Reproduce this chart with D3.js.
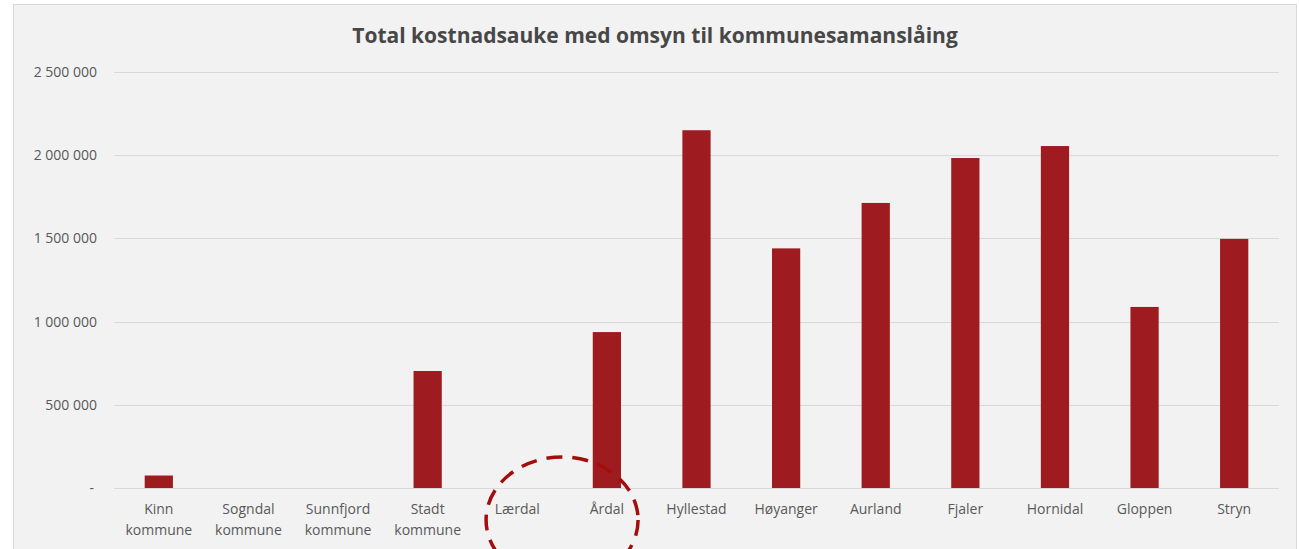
<!DOCTYPE html>
<html>
<head>
<meta charset="utf-8">
<script src="https://cdn.jsdelivr.net/npm/d3@7"></script>
<style>
  body { margin: 0; background: #fff; }
  svg { display: block; font-family: "Open Sans", sans-serif; }
</style>
</head>
<body>
<div id="chart"></div>
<script>
const WIDTH = 1299;
const HEIGHT = 549;
const BAR_COLOR = "#9e1b1f";
const TEXT_COLOR = "#595959";

// data
const categories = [
  ["Kinn", "kommune"], ["Sogndal", "kommune"], ["Sunnfjord", "kommune"],
  ["Stadt", "kommune"], ["Lærdal"], ["Årdal"], ["Hyllestad"], ["Høyanger"],
  ["Aurland"], ["Fjaler"], ["Hornidal"], ["Gloppen"], ["Stryn"]
];
const values = [75000, 0, 0, 703000, 0, 937000, 2150000, 1440000, 1713000, 1983000, 2055000, 1088000, 1497000];
const yTicks = [0, 500000, 1000000, 1500000, 2000000, 2500000];
const title = "Total kostnadsauke med omsyn til kommunesamanslåing";

const svg = d3.select("#chart")
  .append("svg")
  .attr("width", WIDTH)
  .attr("height", HEIGHT);

// chart area panel
svg.append("rect")
  .attr("x", 13.5).attr("y", 4.5)
  .attr("width", 1283).attr("height", 560)
  .attr("fill", "#f2f2f2")
  .attr("stroke", "#d9d9d9");

const x = d3.scaleBand()
  .domain(d3.range(categories.length))
  .range([114, 1279])
  .paddingInner(0.685)
  .paddingOuter(0.3425);

const y = d3.scaleLinear()
  .domain([0, 2500000])
  .range([488, 72]);

const fmt = v => v === 0 ? "-" : d3.format(",")(v).replace(/,/g, " ");

// gridlines
svg.append("g")
  .selectAll("line")
  .data(yTicks)
  .join("line")
  .attr("x1", 114).attr("x2", 1279)
  .attr("y1", d => Math.round(y(d)) + 0.5)
  .attr("y2", d => Math.round(y(d)) + 0.5)
  .attr("stroke", "#d9d9d9")
  .attr("stroke-width", 1);

// y tick labels
svg.append("g")
  .selectAll("text")
  .data(yTicks)
  .join("text")
  .attr("x", d => d === 0 ? 94 : 97)
  .attr("y", d => y(d))
  .attr("dy", "0.35em")
  .attr("text-anchor", "end")
  .attr("font-size", 14)
  .attr("fill", TEXT_COLOR)
  .text(fmt);

// bars
svg.append("g")
  .selectAll("rect")
  .data(values)
  .join("rect")
  .attr("x", (d, i) => x(i))
  .attr("width", x.bandwidth())
  .attr("y", d => y(d))
  .attr("height", d => y(0) - y(d))
  .attr("fill", BAR_COLOR);

// category labels
const labels = svg.append("g")
  .selectAll("text")
  .data(categories)
  .join("text")
  .attr("text-anchor", "middle")
  .attr("font-size", 14)
  .attr("fill", TEXT_COLOR)
  .attr("transform", (d, i) => `translate(${x(i) + x.bandwidth() / 2},514)`);

labels.selectAll("tspan")
  .data(d => d)
  .join("tspan")
  .attr("x", 0)
  .attr("y", (d, i) => i * 21)
  .text(d => d);

// title
svg.append("text")
  .attr("x", 655)
  .attr("y", 43)
  .attr("text-anchor", "middle")
  .attr("font-size", 21)
  .attr("font-weight", "bold")
  .attr("fill", "#474747")
  .text(title);

// dashed circle marking Lærdal / Årdal
svg.append("ellipse")
  .attr("cx", (x(4) + x(5) + x.bandwidth()) / 2)
  .attr("cy", 520)
  .attr("rx", 76)
  .attr("ry", 63)
  .attr("fill", "none")
  .attr("stroke", "#a30d0d")
  .attr("stroke-width", 3.5)
  .attr("stroke-dasharray", "16 10");
</script>
</body>
</html>
